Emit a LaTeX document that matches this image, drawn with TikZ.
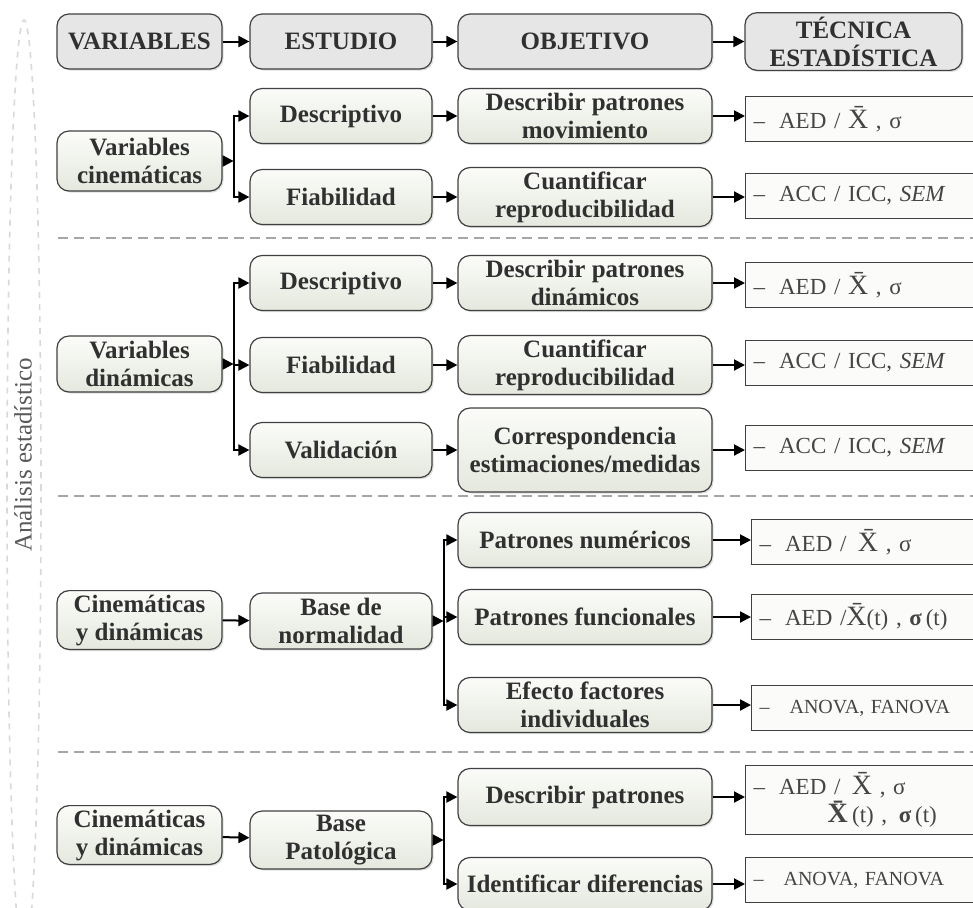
\documentclass[tikz,border=0pt]{standalone}
\usepackage{fontspec}
\setmainfont{Liberation Serif}
\usepackage{xcolor}
\usepackage{tikz}
\usetikzlibrary{calc}
\usetikzlibrary{arrows.meta}
\usetikzlibrary{shadows}
\tikzset{>={Triangle[length=5.5pt,width=5.5pt]}}
\definecolor{txtgray}{HTML}{303030}
\definecolor{headgray}{HTML}{E6E6E6}
\definecolor{boxtop}{HTML}{FBFCF9}
\definecolor{boxbot}{HTML}{E4E8DD}
\definecolor{resfill}{HTML}{FBFBFA}
\tikzstyle{base} = [rectangle, rounded corners=6pt, draw=black!75, line width=0.6pt, text=txtgray, align=center, inner sep=2pt, font=\fontsize{12.5}{14}\selectfont\bfseries, minimum height=27.5pt, drop shadow={shadow xshift=0.8pt, shadow yshift=-0.8pt, opacity=0.25}]
\tikzstyle{head} = [base, fill=headgray]
\tikzstyle{box} = [base, top color=boxtop, bottom color=boxbot]
\tikzstyle{res} = [rectangle, draw=black!75, line width=0.6pt, fill=resfill, anchor=west, text width=117pt, minimum height=22.5pt, align=left, text=txtgray!90, inner xsep=4pt, font=\fontsize{11.5}{14}\selectfont]
\tikzstyle{wa} = [minimum width=82.5pt]
\tikzstyle{wb} = [minimum width=91pt]
\tikzstyle{wc} = [minimum width=127pt]
\tikzstyle{con} = [->, line width=1pt, black]
\tikzstyle{sep} = [gray!70, line width=0.6pt, dash pattern=on 5pt off 3pt]
\newcommand{\xbar}{{\fontsize{14}{14}\selectfont\={X}}}
\newcommand{\dsh}{\textendash\hspace{7pt}}

\begin{document}
\begin{tikzpicture}[x=0.5pt, y=-0.5pt]
\useasboundingbox (0,0) rectangle (973,907);
% left side label
\draw [gray!30, line width=0.8pt, dashed] (24,490) ellipse [x radius=8.5pt, y radius=235pt];
\node [rotate=90, text=black!65, font=\fontsize{12.5}{14}\selectfont] (lbl) at (23,455) {Análisis estadístico};

% header
\node [head, wa] (hvar) at (139.5,41.5) {VARIABLES};
\node [head, wb] (hest) at (341,41.5) {ESTUDIO};
\node [head, wc] (hobj) at (585,41.5) {OBJETIVO};
\node [head, minimum width=108.5pt] (htec) at (853.5,41.5) {TÉCNICA\\ESTADÍSTICA};
\draw [con] (hvar) to (hest);
\draw [con] (hest) to (hobj);
\draw [con] (hobj) to (htec);

% cinematicas
\node [box, wa, minimum height=30pt] (vc) at (139.5,161) {Variables\\cinemáticas};
\node [box, wb] (d1) at (341,116) {Descriptivo};
\node [box, wb] (f1) at (341,197) {Fiabilidad};
\node [box, wc] (o1) at (585,116) {Describir patrones\\movimiento};
\node [box, wc] (o2) at (585,197) {Cuantificar\\reproducibilidad};
\node [res] (r1) at (745,119) {\dsh AED / \xbar\,\,, σ};
\node [res] (r2) at (745,196) {\dsh ACC / ICC, \textit{SEM}};
\coordinate (j1) at ($(vc.east)+(11,0)$);
\draw [con] (vc.east) to (j1);
\draw [con] (j1) |- (d1.west);
\draw [con] (j1) |- (f1.west);
\draw [con] (d1) to (o1);
\draw [con] (f1) to (o2);
\draw [con] (o1.east) to (o1.east -| r1.west);
\draw [con] (o2.east) to (o2.east -| r2.west);
\draw [sep] (58,238) -- (973,238);

% dinamicas
\node [box, wa, minimum height=28pt] (vd) at (139.5,364) {Variables\\dinámicas};
\node [box, wb] (d2) at (341,283) {Descriptivo};
\node [box, wb] (f2) at (341,365) {Fiabilidad};
\node [box, wb] (v2) at (341,450) {Validación};
\node [box, wc] (o3) at (585,283) {Describir patrones\\dinámicos};
\node [box, wc] (o4) at (585,365) {Cuantificar\\reproducibilidad};
\node [box, wc, minimum height=42pt] (o5) at (585,450) {Correspondencia\\estimaciones/medidas};
\node [res] (r3) at (745,285) {\dsh AED / \xbar\,\,, σ};
\node [res] (r4) at (745,363) {\dsh ACC / ICC, \textit{SEM}};
\node [res] (r5) at (745,448) {\dsh ACC / ICC, \textit{SEM}};
\coordinate (j2) at ($(vd.east)+(11,0)$);
\draw [con] (vd.east) to (j2);
\draw [con] (j2) |- (d2.west);
\draw [con] (j2) |- (f2.west);
\draw [con] (j2) |- (v2.west);
\draw [con] (d2) to (o3);
\draw [con] (f2) to (o4);
\draw [con] (v2) to (o5);
\draw [con] (o3.east) to (o3.east -| r3.west);
\draw [con] (o4.east) to (o4.east -| r4.west);
\draw [con] (o5.east) to (o5.east -| r5.west);
\draw [sep] (58,496) -- (973,496);

% normalidad
\node [box, wa, minimum height=28pt] (cd1) at (139.5,620) {Cinemáticas\\y dinámicas};
\node [box, wb, minimum height=28pt] (bn) at (341,621) {Base de\\normalidad};
\node [box, wc] (pn) at (585,540) {Patrones numéricos};
\node [box, wc] (pf) at (585,617) {Patrones funcionales};
\node [box, wc] (ef) at (585,705) {Efecto factores\\individuales};
\node [res] (r6) at (751,542) {\dsh AED /\, \xbar\,\,, σ};
\node [res] (r7) at (751,617) {\dsh AED /\xbar(t) , \textbf{σ}\,(t)};
\node [res, font=\fontsize{10}{12}\selectfont] (r8) at (751,708) {\dsh\hspace{3pt}ANOVA, FANOVA};
\coordinate (j3) at ($(bn.east)+(11,0)$);
\draw [con] (cd1) to (bn);
\draw [con] (bn.east) to (j3);
\draw [con] (j3) |- (pn.west);
\draw [con] (j3) |- (pf.west);
\draw [con] (j3) |- (ef.west);
\draw [con] (pn.east) to (pn.east -| r6.west);
\draw [con] (pf.east) to (pf.east -| r7.west);
\draw [con] (ef.east) to (ef.east -| r8.west);
\draw [sep] (58,752) -- (973,752);

% patologica
\node [box, wa] (cd2) at (139.5,835) {Cinemáticas\\y dinámicas};
\node [box, wb] (bp) at (341,840) {Base\\Patológica};
\node [box, wc, minimum height=28.5pt] (dp) at (585,797) {Describir patrones};
\node [box, wc, minimum height=26.5pt] (idf) at (585,884) {Identificar diferencias};
\node [res, minimum height=33pt] (r9) at (745,800) {\dsh AED /\, \xbar\,\,, σ\\\hspace{37pt}\textbf{\xbar}(t) ,\, \textbf{σ}\,(t)};
\node [res, font=\fontsize{10}{12}\selectfont] (r10) at (745,880) {\dsh\hspace{3pt}ANOVA, FANOVA};
\coordinate (j4) at ($(bp.east)+(11,0)$);
\draw [con] (cd2) to (bp);
\draw [con] (bp.east) to (j4);
\draw [con] (j4) |- (dp.west);
\draw [con] (j4) |- (idf.west);
\draw [con] (dp.east) to (dp.east -| r9.west);
\draw [con] (idf.east) to (idf.east -| r10.west);
\end{tikzpicture}
\end{document}
